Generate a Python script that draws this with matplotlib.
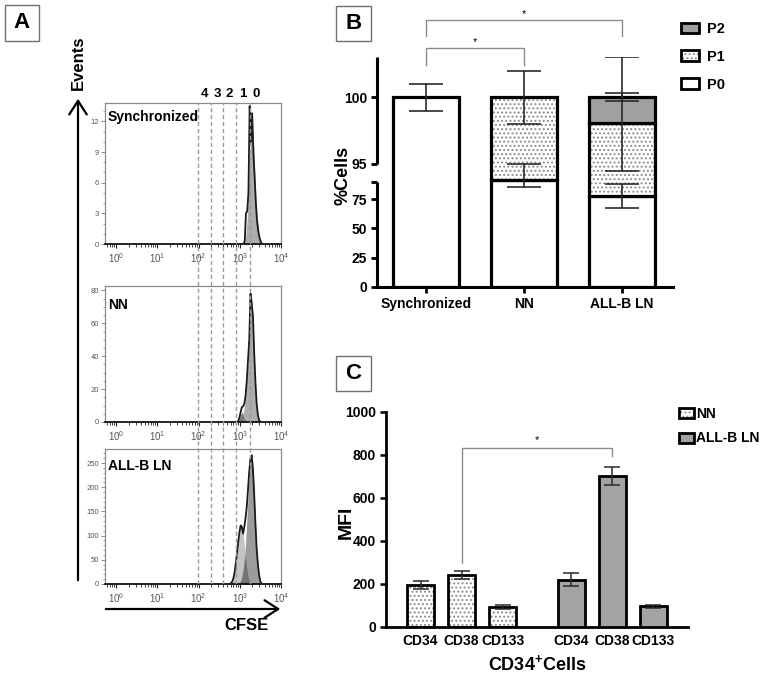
import numpy as np
import matplotlib
matplotlib.use('Agg')
import matplotlib.pyplot as plt
from matplotlib.patches import Patch, Rectangle, FancyArrowPatch
from matplotlib.ticker import MultipleLocator, FixedLocator, LogLocator, NullFormatter

plt.rcParams['font.family'] = ['Liberation Sans', 'DejaVu Sans']
plt.rcParams['mathtext.fontset'] = 'custom'
plt.rcParams['mathtext.rm'] = 'Liberation Sans'
plt.rcParams['mathtext.bf'] = 'Liberation Sans:bold'
plt.rcParams['mathtext.it'] = 'Liberation Sans:italic'
plt.rcParams['hatch.linewidth'] = 0.9

# ---------------- Panel A data (CFSE histograms) ----------------
cfse_gate_edges = [95, 195, 400, 800, 1780, 3630]
cfse_gate_labels = ['4', '3', '2', '1', '0']
cfse_ticks = [1, 10, 100, 1000, 10000]
cfse_tick_labels = ['$10^{0}$', '$10^{1}$', '$10^{2}$', '$10^{3}$', '$10^{4}$']

sync_log = [3.06, 3.09, 3.12, 3.15, 3.18, 3.21, 3.24, 3.27, 3.30, 3.33, 3.36, 3.39, 3.42, 3.45, 3.48, 3.51, 3.54]
sync_total = [0, 0, 0.3, 3.0, 3.2, 5.0, 13.5, 10.0, 12.8, 9.0, 6.5, 4.0, 2.2, 1.2, 0.6, 0.2, 0]
sync_gen0 = [0, 0, 0.2, 1.0, 2.5, 5.0, 8.5, 11.0, 12.0, 10.5, 7.5, 4.8, 2.8, 1.6, 0.8, 0.3, 0]

nn_log = [2.90, 2.93, 2.96, 2.99, 3.02, 3.05, 3.08, 3.11, 3.14, 3.17, 3.20, 3.23, 3.26, 3.29, 3.32, 3.35, 3.38, 3.41, 3.44, 3.47, 3.50]
nn_gen1 = [0, 0, 0.5, 2, 4.5, 6, 4.5, 2, 0.8, 0.2, 0, 0, 0, 0, 0, 0, 0, 0, 0, 0, 0]
nn_gen0 = [0, 0, 0, 0.3, 1, 2.5, 5, 9, 15, 24, 36, 52, 70, 76, 62, 40, 22, 10, 4, 1, 0]
nn_total = [0, 0, 0.5, 2.5, 6, 9, 9.5, 11, 16, 25, 38, 50, 78, 72, 64, 42, 24, 11, 4, 1, 0]

allb_log = [2.75, 2.78, 2.81, 2.84, 2.87, 2.90, 2.93, 2.96, 2.99, 3.02, 3.05, 3.08, 3.11, 3.14,
            3.17, 3.20, 3.23, 3.26, 3.29, 3.32, 3.35, 3.38, 3.41, 3.44, 3.47, 3.50, 3.53]
allb_gen1 = [0, 1, 4, 10, 22, 40, 62, 85, 104, 116, 118, 105, 82, 56, 33, 16, 6, 2, 0, 0, 0, 0, 0, 0, 0, 0, 0]
allb_gen0 = [0, 0, 0, 0, 0, 0, 0, 0, 2, 6, 14, 28, 50, 85, 130, 180, 228, 258, 262, 235, 185, 125, 72, 40, 18, 5, 0]
allb_total = [0, 1, 4, 10, 22, 40, 62, 85, 106, 121, 118, 104, 118, 136, 160, 196, 233, 260, 266, 236, 185, 125, 72, 40, 18, 5, 0]

# ---------------- Panel B data (% cells per generation) ----------------
groups_b = ['Synchronized', 'NN', 'ALL-B LN']
p0_mean = [100.0, 90.3, 77.7]
p0_sd = [1.0, 4.7, 10.0]
p1_mean = [0.0, 9.7, 20.35]
p1_sd = [0.0, 2.0, 5.0]
p2_mean = [0.0, 0.0, 1.95]
p2_sd = [0.0, 0.0, 0.3]
legend_b = ['P2', 'P1', 'P0']

# ---------------- Panel C data (MFI) ----------------
markers_c = ['CD34', 'CD38', 'CD133']
nn_mfi = [193, 240, 90]
nn_mfi_sd = [19, 19, 9]
allb_mfi = [219, 701, 94]
allb_mfi_sd = [30, 40, 8]
legend_c = ['NN', 'ALL-B LN']

W, H = 765, 674
fig = plt.figure(figsize=(W / 100, H / 100), dpi=100)


def fbox(l, t, r, b):
    return [l / W, 1 - b / H, (r - l) / W, (b - t) / H]


def letter_box(l, t, r, b, letter):
    fig.add_artist(Rectangle((l / W, 1 - b / H), (r - l) / W, (b - t) / H, transform=fig.transFigure,
                             facecolor='white', edgecolor='#707070', lw=1.0))
    fig.text((l + r) / 2 / W, 1 - (t + b) / 2 / H, letter, ha='center', va='center',
             fontsize=16, fontweight='bold')


XL = (10 ** -0.27, 1e4)


def hist_axes(rect, title, ty, logs, total, layers, ymax, yticks, yminor):
    ax = fig.add_axes(rect)
    x = 10 ** np.asarray(logs, dtype=float)
    for vals, col in layers:
        ax.fill_between(x, 0, vals, color=col, lw=0, zorder=2)
    ax.plot(x, total, color='#1a1a1a', lw=1.3, zorder=3)
    ax.set_xscale('log')
    ax.set_xlim(*XL)
    ax.set_ylim(0, ymax)
    ax.xaxis.set_major_locator(FixedLocator(cfse_ticks))
    ax.set_xticklabels(cfse_tick_labels)
    ax.xaxis.set_minor_locator(LogLocator(base=10, subs=np.arange(2, 10), numticks=30))
    ax.xaxis.set_minor_formatter(NullFormatter())
    ax.set_yticks(yticks)
    ax.yaxis.set_minor_locator(MultipleLocator(yminor))
    ax.tick_params(axis='x', which='major', length=3, width=0.8, color='#222222',
                   labelsize=7, labelcolor='#555555', pad=2)
    ax.tick_params(axis='x', which='minor', length=1.8, width=0.6, color='#222222')
    ax.tick_params(axis='y', which='major', length=3, width=0.6, color='#777777',
                   labelsize=5.5, labelcolor='#555555', pad=1.5)
    ax.tick_params(axis='y', which='minor', length=1.5, width=0.5, color='#777777')
    for s in ['top', 'right', 'left']:
        ax.spines[s].set_color('#8a8a8a')
        ax.spines[s].set_linewidth(0.9)
    ax.spines['bottom'].set_color('#111111')
    ax.spines['bottom'].set_linewidth(1.3)
    ax.text(0.015, ty, title, transform=ax.transAxes, ha='left', va='center',
            fontsize=10, fontweight='bold')
    return ax


hist_axes(fbox(105, 103, 281, 244), 'Synchronized', 0.90, sync_log, sync_total,
          [(sync_gen0, '#adadad')], 13.8, [0, 3, 6, 9, 12], 1)
hist_axes(fbox(105, 285.5, 281, 422), 'NN', 0.857, nn_log, nn_total,
          [(nn_gen0, '#adadad'), (nn_gen1, '#7a7a7a')], 83, [0, 20, 40, 60, 80], 5)
hist_axes(fbox(105, 449, 281, 584), 'ALL-B LN', 0.874, allb_log, allb_total,
          [(allb_gen1, '#c4c4c4'), (allb_gen0, '#9c9c9c'),
           (np.minimum(allb_gen0, allb_gen1), '#757575')], 279, [0, 50, 100, 150, 200, 250], 10)

# dashed generation gates spanning all three histograms
ov = fig.add_axes(fbox(105, 103, 281, 584))
ov.set_xscale('log')
ov.set_xlim(*XL)
ov.set_ylim(0, 1)
ov.axis('off')
ov.vlines(cfse_gate_edges[:-1], 0, 1, colors='#9a9a9a', linestyles=(0, (3, 2)), lw=1.0)
edges = np.asarray(cfse_gate_edges, dtype=float)
mids = np.sqrt(edges[:-1] * edges[1:])
for m, lab in zip(mids, cfse_gate_labels):
    ov.text(m, 1.006, lab, ha='center', va='bottom', fontsize=9.5, fontweight='bold',
            clip_on=False)

# axis arrows of panel A
fig.add_artist(FancyArrowPatch((78 / W, 1 - 583 / H), (78 / W, 1 - 96 / H), transform=fig.transFigure,
                               arrowstyle='->,head_length=0.7,head_width=0.45', mutation_scale=14,
                               lw=1.6, color='black'))
fig.add_artist(FancyArrowPatch((103 / W, 1 - 609 / H), (283 / W, 1 - 609 / H), transform=fig.transFigure,
                               arrowstyle='->,head_length=0.7,head_width=0.45', mutation_scale=14,
                               lw=1.6, color='black'))
fig.text(78 / W, 1 - 63 / H, 'Events', rotation=90, ha='center', va='center',
         fontsize=12, fontweight='bold')
fig.text(246 / W, 1 - 626 / H, 'CFSE', ha='center', va='center', fontsize=12, fontweight='bold')

letter_box(5, 5, 39, 41, 'A')

# ---------------- Panel B ----------------


def brk_fwd(v):
    v = np.asarray(v, dtype=float)
    return np.where(v <= 90, v * 1.173,
                    np.where(v <= 95, 105.57 + (v - 90) * 3.54, 123.27 + (v - 95) * 13.33))


def brk_inv(y):
    y = np.asarray(y, dtype=float)
    return np.where(y <= 105.57, y / 1.173,
                    np.where(y <= 123.27, 90 + (y - 105.57) / 3.54, 95 + (y - 123.27) / 13.33))


axB = fig.add_axes(fbox(377, 57.3, 673, 287))
axB.set_yscale('function', functions=(brk_fwd, brk_inv))
axB.set_ylim(0, 103)
axB.set_xlim(-0.5, 2.52)
xb = np.arange(len(groups_b))
bw = 0.67
p0 = np.asarray(p0_mean)
p1 = np.asarray(p1_mean)
p2 = np.asarray(p2_mean)
m1 = p1 > 0
m2 = p2 > 0
axB.bar(xb, p0, width=bw, color='white', edgecolor='black', lw=2.3, zorder=2)
axB.bar(xb[m1], p1[m1], bottom=p0[m1], width=bw, color='white', edgecolor='#8a8a8a',
        hatch='....', lw=0, zorder=2)
axB.bar(xb[m1], p1[m1], bottom=p0[m1], width=bw, fill=False, edgecolor='black', lw=2.3, zorder=3)
axB.bar(xb[m2], p2[m2], bottom=(p0 + p1)[m2], width=bw, color='#a0a0a0', edgecolor='black',
        lw=2.3, zorder=3)
ekw = dict(fmt='none', ecolor='#2a2a2a', elinewidth=1.2, capsize=12.5, capthick=1.2, zorder=5)
axB.errorbar(xb, p0, yerr=p0_sd, **ekw)
axB.errorbar(xb[m1], (p0 + p1)[m1], yerr=np.asarray(p1_sd)[m1], **ekw)
axB.errorbar(xb[m2], (p0 + p1 + p2)[m2], yerr=np.asarray(p2_sd)[m2], **ekw)

axB.spines['left'].set_visible(False)
axB.spines['top'].set_visible(False)
axB.spines['right'].set_visible(False)
axB.spines['bottom'].set_linewidth(2.2)
yt = axB.get_yaxis_transform()
axB.plot([0, 0], [0, 90], transform=yt, color='black', lw=2.2, clip_on=False, solid_capstyle='butt')
axB.plot([0, 0], [95, 103], transform=yt, color='black', lw=2.2, clip_on=False, solid_capstyle='butt')
axB.set_yticks([0, 25, 50, 75, 90, 95, 100])
axB.set_yticklabels(['0', '25', '50', '75', '', '95', '100'])
axB.yaxis.set_minor_locator(FixedLocator([]))
axB.set_xticks(xb)
axB.set_xticklabels(groups_b)
axB.tick_params(axis='both', which='major', length=4, width=2, labelsize=10, pad=3)
for t in axB.get_xticklabels() + axB.get_yticklabels():
    t.set_fontweight('bold')
axB.set_ylabel('%Cells', fontsize=13, fontweight='bold')
axB.yaxis.set_label_coords(-0.0855, 0.4876)

# significance brackets B
axB.plot([0, 0, 1, 1], [102.4, 103.7, 103.7, 102.4], color='#8c8c8c', lw=1, clip_on=False)
axB.plot([0, 0, 2, 2], [104.6, 105.8, 105.8, 104.6], color='#8c8c8c', lw=1, clip_on=False)
axB.text(0.5, 103.75, '*', ha='center', va='bottom', fontsize=8, clip_on=False)
axB.text(1.0, 105.85, '*', ha='center', va='bottom', fontsize=8, clip_on=False)

hb = [Patch(facecolor='#a0a0a0', edgecolor='black', lw=2),
      (Patch(facecolor='white', edgecolor='#8a8a8a', hatch='....', lw=0),
       Patch(fill=False, edgecolor='black', lw=2)),
      Patch(facecolor='white', edgecolor='black', lw=2)]
axB.legend(hb, legend_b, loc='upper left', bbox_to_anchor=(681 / W, 1 - 22 / H),
           bbox_transform=fig.transFigure, frameon=False, borderpad=0, borderaxespad=0,
           handlelength=1.2, handleheight=0.75, handletextpad=0.6, labelspacing=0.95,
           prop={'weight': 'bold', 'size': 10.5})

letter_box(336, 6, 371, 41, 'B')

# ---------------- Panel C ----------------
axC = fig.add_axes(fbox(385.7, 411.7, 688.3, 626.7))
xc = np.arange(len(markers_c))
xn = xc
xa = xc + 3.68
cw = 0.68
axC.bar(xn, nn_mfi, width=cw, color='white', edgecolor='#8a8a8a', hatch='....', lw=0, zorder=2)
axC.bar(xn, nn_mfi, width=cw, fill=False, edgecolor='black', lw=2.0, zorder=3)
axC.bar(xa, allb_mfi, width=cw, color='#a3a3a3', edgecolor='black', lw=2.0, zorder=3)
ekc = dict(fmt='none', ecolor='#2a2a2a', elinewidth=1.1, capsize=6, capthick=1.1, zorder=5)
axC.errorbar(xn, nn_mfi, yerr=nn_mfi_sd, **ekc)
axC.errorbar(xa, allb_mfi, yerr=allb_mfi_sd, **ekc)
axC.set_xlim(-0.85, 6.53)
axC.set_ylim(0, 1000)
axC.set_yticks([0, 200, 400, 600, 800, 1000])
axC.set_xticks(np.concatenate([xn, xa]))
axC.set_xticklabels(markers_c + markers_c)
axC.spines['top'].set_visible(False)
axC.spines['right'].set_visible(False)
axC.spines['left'].set_linewidth(2.0)
axC.spines['bottom'].set_linewidth(2.0)
axC.tick_params(axis='y', length=4, width=1.8, labelsize=10, pad=3)
axC.tick_params(axis='x', length=0, labelsize=10, pad=5)
for t in axC.get_xticklabels() + axC.get_yticklabels():
    t.set_fontweight('bold')
axC.set_ylabel('MFI', fontsize=14, fontweight='bold')
axC.yaxis.set_label_coords(-0.1015, 0.485)
axC.set_xlabel(r'CD34$^{\mathbf{+}}$Cells', fontsize=13, fontweight='bold')
axC.xaxis.set_label_coords(0.5, -0.125)

axC.plot([xn[1], xn[1], xa[1], xa[1]], [298, 830, 830, 794], color='#8c8c8c', lw=1, clip_on=False)
axC.text((xn[1] + xa[1]) / 2, 845, '*', ha='center', va='bottom', fontsize=8, clip_on=False)

hc = [(Patch(facecolor='white', edgecolor='#8a8a8a', hatch='....', lw=0),
       Patch(fill=False, edgecolor='black', lw=2)),
      Patch(facecolor='#a3a3a3', edgecolor='black', lw=2)]
axC.legend(hc, legend_c, loc='upper left', bbox_to_anchor=(679 / W, 1 - 407 / H),
           bbox_transform=fig.transFigure, frameon=False, borderpad=0, borderaxespad=0,
           handlelength=1.1, handleheight=0.72, handletextpad=0.15, labelspacing=0.75,
           prop={'weight': 'bold', 'size': 10})

letter_box(336, 356, 371, 391, 'C')

fig.savefig('out.png', dpi=100)
